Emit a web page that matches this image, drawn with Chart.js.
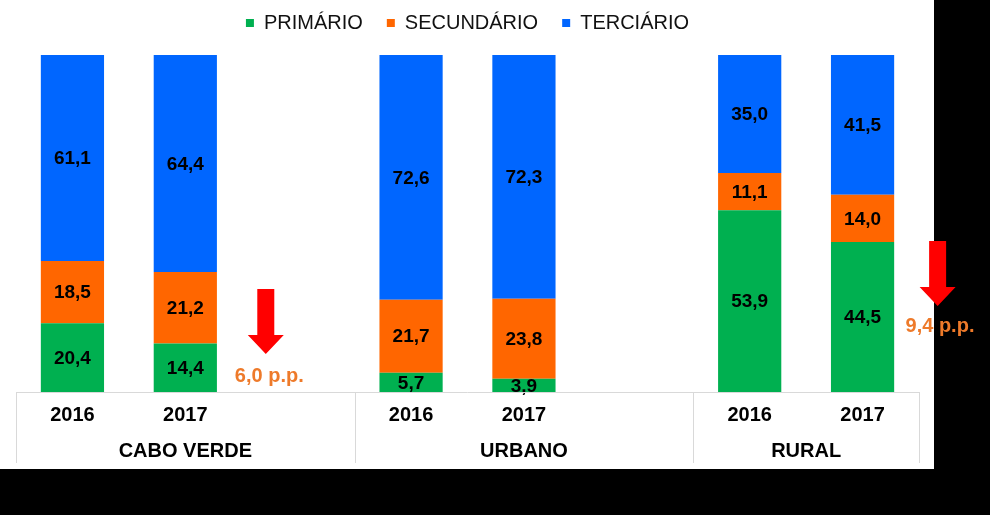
<!DOCTYPE html>
<html><head><meta charset="utf-8">
<script src="https://cdn.jsdelivr.net/npm/chart.js@4"></script>
<style>html,body{margin:0;padding:0;background:#000;}canvas{display:block;}</style>
</head><body>
<canvas id="c" width="990" height="515"></canvas>
<script>
// ---- data ----
const categories = ['2016', '2017', '', '2016', '2017', '', '2016', '2017'];
const groupNames = ['CABO VERDE', 'URBANO', 'RURAL'];
const groupStart = [0, 3, 6];
const groupEnd = [2, 5, 7];
const seriesNames = ['PRIMÁRIO', 'SECUNDÁRIO', 'TERCIÁRIO'];
const primario   = [20.4, 14.4, null, 5.7, 3.9, null, 53.9, 44.5];
const secundario = [18.5, 21.2, null, 21.7, 23.8, null, 11.1, 14.0];
const terciario  = [61.1, 64.4, null, 72.6, 72.3, null, 35.0, 41.5];
const changeLabels = ['6,0 p.p.', '9,4 p.p.'];
const changeAfter = [1, 7];

const colors = ['#00B050', '#FF6600', '#0066FF'];
const FONT = "'Liberation Sans', Arial, sans-serif";

const fmt = v => v.toFixed(1).replace('.', ',');

const bgPlugin = {
  id: 'bg',
  beforeDraw(chart) {
    const ctx = chart.ctx;
    ctx.save();
    ctx.fillStyle = '#FFFFFF';
    ctx.fillRect(0, 0, 934, 469);
    ctx.restore();
  }
};

const legendTweak = {
  id: 'legendTweak',
  afterInit(chart) {
    const lg = chart.legend;
    const origFit = lg.fit.bind(lg);
    lg.fit = function () { origFit(); this.height = 54; };
    const origDraw = lg.draw.bind(lg);
    lg.draw = function () {
      const c = chart.ctx; c.save(); c.translate(0, -12); origDraw(); c.restore();
    };
  }
};

const axisPlugin = {
  id: 'axisDeco',
  afterDraw(chart) {
    const ctx = chart.ctx;
    const xs = chart.scales.x;
    const slot = (xs.right - xs.left) / categories.length;
    const edgeL = i => xs.getPixelForValue(i) - slot / 2;
    const edgeR = i => xs.getPixelForValue(i) + slot / 2;
    const yAxis = chart.chartArea.bottom;
    ctx.save();
    ctx.strokeStyle = '#D9D9D9';
    ctx.lineWidth = 1;
    ctx.beginPath();
    ctx.moveTo(xs.left, yAxis + 0.5);
    ctx.lineTo(xs.right, yAxis + 0.5);
    const edges = new Set();
    groupStart.forEach((s, g) => { edges.add(Math.round(edgeL(s))); edges.add(Math.round(edgeR(groupEnd[g]))); });
    edges.forEach(x => { ctx.moveTo(x + 0.5, yAxis); ctx.lineTo(x + 0.5, yAxis + 71); });
    ctx.stroke();
    ctx.fillStyle = '#000';
    ctx.font = 'bold 20px ' + FONT;
    ctx.textAlign = 'center';
    ctx.textBaseline = 'middle';
    groupNames.forEach((name, g) => {
      const cx = (edgeL(groupStart[g]) + edgeR(groupEnd[g])) / 2;
      ctx.fillText(name, cx, yAxis + 59);
    });
    ctx.restore();
  }
};

const labelPlugin = {
  id: 'valueLabels',
  afterDatasetsDraw(chart) {
    const ctx = chart.ctx;
    ctx.save();
    ctx.font = 'bold 19px ' + FONT;
    ctx.fillStyle = '#000';
    ctx.textAlign = 'center';
    ctx.textBaseline = 'middle';
    chart.data.datasets.forEach((ds, i) => {
      const meta = chart.getDatasetMeta(i);
      meta.data.forEach((bar, j) => {
        const v = ds.data[j];
        if (v == null) return;
        const p = bar.getProps(['x', 'y', 'base'], true);
        ctx.fillText(fmt(v), p.x, (p.y + p.base) / 2 + 1);
      });
    });
    ctx.restore();
  }
};

// arrow annotations: positions relative to the category slot and value axis
const arrowLayout = [
  { dx: 0.713, top: 30.6, tip: 11.3, textDx: 0.744, textY: 4.7 },
  { dx: 0.665, top: 44.8, tip: 25.5, textDx: 0.686, textY: 19.3 }
];
const arrowPlugin = {
  id: 'arrows',
  afterDraw(chart) {
    const ctx = chart.ctx;
    const xs = chart.scales.x, ys = chart.scales.y;
    const slot = (xs.right - xs.left) / categories.length;
    ctx.save();
    changeLabels.forEach((txt, k) => {
      const L = arrowLayout[k];
      const base = xs.getPixelForValue(changeAfter[k]);
      const cx = base + L.dx * slot;
      const yTop = ys.getPixelForValue(L.top);
      const yTip = ys.getPixelForValue(L.tip);
      const headH = 19, shaftW = 17, headW = 36;
      ctx.fillStyle = '#FF0000';
      ctx.beginPath();
      ctx.moveTo(cx - shaftW / 2, yTop);
      ctx.lineTo(cx + shaftW / 2, yTop);
      ctx.lineTo(cx + shaftW / 2, yTip - headH);
      ctx.lineTo(cx + headW / 2, yTip - headH);
      ctx.lineTo(cx, yTip);
      ctx.lineTo(cx - headW / 2, yTip - headH);
      ctx.lineTo(cx - shaftW / 2, yTip - headH);
      ctx.closePath();
      ctx.fill();
      ctx.fillStyle = '#EE7A2A';
      ctx.font = 'bold 20px ' + FONT;
      ctx.textAlign = 'center';
      ctx.textBaseline = 'middle';
      ctx.fillText(txt, base + L.textDx * slot, ys.getPixelForValue(L.textY));
    });
    ctx.restore();
  }
};

const seriesData = [primario, secundario, terciario];

new Chart(document.getElementById('c'), {
  type: 'bar',
  data: {
    labels: categories,
    datasets: seriesNames.map((n, i) => ({
      label: n,
      data: seriesData[i],
      backgroundColor: colors[i],
      borderWidth: 0,
      barPercentage: 0.56,
      categoryPercentage: 1.0
    }))
  },
  options: {
    responsive: false,
    devicePixelRatio: 1,
    animation: false,
    layout: { padding: { left: 16, right: 71, top: 1, bottom: 77 } },
    plugins: {
      legend: {
        position: 'top',
        labels: {
          boxWidth: 8, boxHeight: 8, padding: 24,
          color: '#111',
          font: { family: FONT, size: 20 }
        }
      },
      tooltip: { enabled: false },
      title: { display: false }
    },
    scales: {
      x: {
        stacked: true,
        grid: { display: false, drawTicks: false },
        border: { display: false },
        ticks: { color: '#000', font: { family: FONT, size: 20, weight: 'bold' }, padding: 11, maxRotation: 0, autoSkip: false }
      },
      y: {
        stacked: true, display: false, min: 0, max: 100
      }
    }
  },
  plugins: [bgPlugin, legendTweak, axisPlugin, labelPlugin, arrowPlugin]
});
</script>
</body></html>
